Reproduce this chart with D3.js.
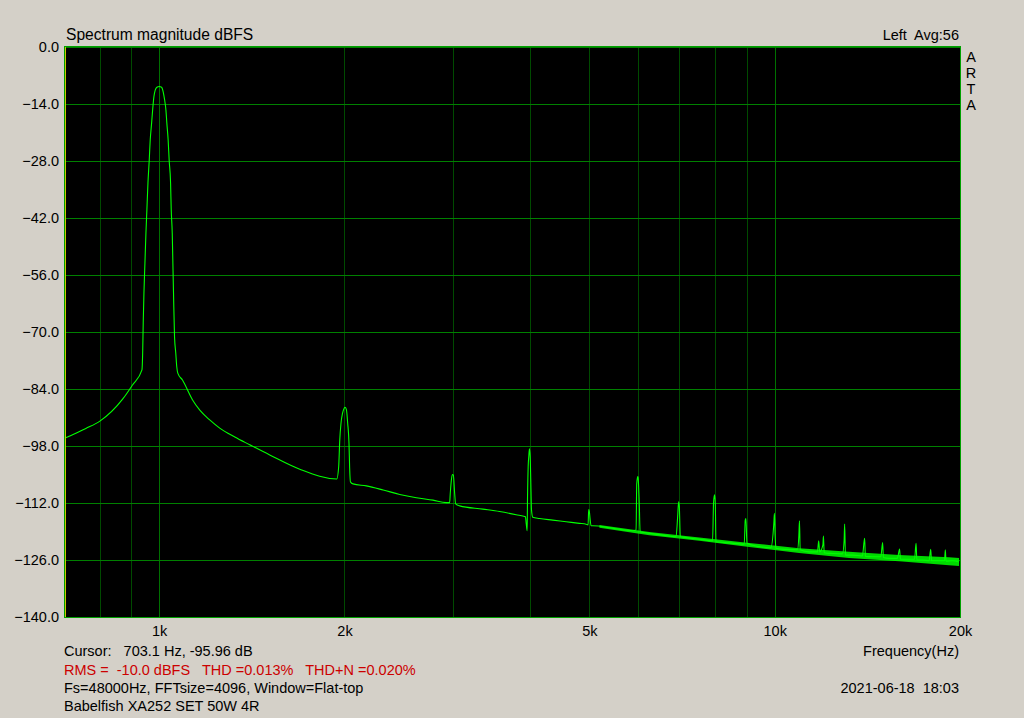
<!DOCTYPE html>
<html>
<head>
<meta charset="utf-8">
<script src="https://cdn.jsdelivr.net/npm/d3@7"></script>
<style>
  html, body { margin: 0; padding: 0; background: #d4d0c8; }
  svg { display: block; }
  text { font-family: "Liberation Sans", Arial, sans-serif; font-size: 14.5px; fill: #000; white-space: pre; }
</style>
</head>
<body>
<svg id="chart" width="1024" height="718"></svg>
<script>
// ---------- data ----------
const yTicks = [0, -14, -28, -42, -56, -70, -84, -98, -112, -126, -140];
const xTickValues = [1000, 2000, 5000, 10000, 20000];
const xTickLabels = ["1k", "2k", "5k", "10k", "20k"];
const gridFreqsMinor = [800, 900, 2000, 3000, 4000, 5000, 6000, 7000, 8000, 9000];
const gridFreqsMajor = [1000, 10000];

// spectrum trace: frequency (Hz)
const specFreq = [
  705, 760, 801, 872, 905, 937.5,
  940, 942, 944.5, 948, 951.6, 955, 958.8, 963.4, 967, 972, 975.7, 980.4, 985.2, 991.5, 1000,
  1009, 1015, 1020.5, 1025.5, 1029, 1034, 1038, 1043.5, 1046, 1050, 1052.5, 1055, 1059, 1064, 1068, 1072,
  1091, 1133, 1164, 1208, 1254, 1327, 1403, 1512, 1692, 1943,
  1957, 1965, 1974, 1985, 1994, 2004, 2014, 2024, 2034, 2039, 2045,
  2065, 2170, 2311, 2459, 2617, 2785, 2928,
  2964, 2971, 2983, 2994, 3005, 3020, 3031,
  3077, 3355, 3572, 3801, 3936,
  3947, 3961, 3966, 3976, 3985, 3995, 4006, 4015, 4026, 4045,
  4148, 4358, 4583, 4816, 4938,
  4975, 4986, 4999, 5012, 5031,
  5062, 5455, 5879, 5954,
  5968, 5990, 5998, 6027, 6044,
  6180, 6574, 6913,
  6955, 6980, 6999, 7025,
  7176, 7542, 7926,
  7955, 7985, 8007, 8027,
  8436, 8923,
  8956, 8979, 9013,
  9434, 9857,
  9967, 9990, 10016, 10044,
  10430, 10888,
  10946, 10971, 10999,
  11375, 11735, 11788, 11832,
  11975, 12000, 12033,
  12413, 12885,
  12966, 12990, 13029,
  13375, 13883,
  13998, 14040,
  14411, 14873,
  14973, 15017,
  15340, 15824,
  15955, 16003,
  16530, 16873,
  16969, 17020,
  17373, 17813,
  17924, 17978,
  18491, 18874,
  18931, 18983,
  19434, 19929
];
// spectrum trace: magnitude (dBFS)
const specDb = [
  -96.0, -93.7, -91.9, -86.5, -83.0, -79.3,
  -75.2, -67.8, -60.4, -53.1, -45.7, -40.0, -33.4, -27.8, -22.8, -18.7, -15.5, -12.2, -10.6, -9.9, -9.7,
  -9.9, -11.0, -13.0, -15.5, -18.7, -22.8, -27.8, -33.4, -40.0, -45.7, -53.1, -60.4, -71.2, -75.2, -78.6, -80.1,
  -81.8, -86.7, -89.2, -91.6, -93.6, -95.8, -97.7, -100.2, -103.7, -106.1,
  -103.1, -96.5, -92.4, -90.0, -89.0, -88.5, -89.0, -92.4, -97.3, -103.4, -106.8,
  -107.3, -107.8, -108.8, -109.9, -110.7, -111.3, -111.9,
  -111.9, -109.6, -106.4, -105.0, -105.1, -109.6, -112.2,
  -112.7, -113.5, -114.1, -114.9, -115.4,
  -117.0, -118.8, -111.3, -103.1, -100.6, -98.7, -100.6, -106.4, -113.7, -115.5,
  -115.8, -116.2, -116.6, -117.0, -117.2,
  -117.4, -113.6, -114.1, -115.8, -117.6,
  -117.6, -118.2, -118.8, -118.6,
  -107.3, -105.5, -105.7, -112.9, -119.1,
  -119.3, -119.9, -120.3,
  -115.4, -111.7, -112.9, -120.3,
  -120.5, -120.9, -121.3,
  -111.9, -110.0, -112.1, -121.5,
  -121.8, -122.1,
  -116.2, -115.8, -121.9,
  -122.7, -123.0,
  -117.0, -114.5, -119.9, -123.1,
  -123.4, -123.5,
  -119.9, -116.4, -123.5,
  -124.0, -124.0, -121.3, -124.0,
  -122.3, -120.1, -124.2,
  -124.4, -124.5,
  -121.1, -117.2, -124.8,
  -124.8, -125.0,
  -120.7, -125.1,
  -125.2, -125.2,
  -121.7, -125.4,
  -125.6, -125.6,
  -123.3, -125.8,
  -125.8, -125.8,
  -121.9, -126.0,
  -126.0, -126.2,
  -123.4, -126.2,
  -126.2, -126.2,
  -123.5, -126.3,
  -126.2, -126.5
];

// noise band envelope of the floor at higher frequencies
const noiseFreq = [5190, 6257, 7542, 9092, 10955, 13208, 15924, 19193, 19929];
const noiseTop = [-117.4, -119.1, -120.5, -121.8, -123.1, -124.0, -124.8, -125.3, -125.5];
const noiseBottom = [-118.1, -119.9, -121.3, -122.8, -124.3, -125.5, -126.3, -127.3, -127.5];

// ---------- drawing ----------
const svg = d3.select("#chart");
const pL = 65, pR = 960, pT = 47, pB = 617;
const FONT = "\"Liberation Sans\", Arial, sans-serif";

const x = d3.scaleLog().domain([703, 20000]).range([pL, pR]);
const y = d3.scaleLinear().domain([0, -140]).range([pT, pB]);

// plot background
svg.append("rect").attr("x", pL).attr("y", pT)
  .attr("width", pR - pL).attr("height", pB - pT).attr("fill", "#000");

// vertical grid
svg.append("g").selectAll("line").data(gridFreqsMinor).join("line")
  .attr("x1", d => Math.round(x(d)) + 0.5).attr("x2", d => Math.round(x(d)) + 0.5)
  .attr("y1", pT).attr("y2", pB)
  .attr("stroke", "#004a00").attr("stroke-width", 1);
svg.append("g").selectAll("line").data(gridFreqsMajor).join("line")
  .attr("x1", d => Math.round(x(d)) + 0.5).attr("x2", d => Math.round(x(d)) + 0.5)
  .attr("y1", pT).attr("y2", pB)
  .attr("stroke", "#007000").attr("stroke-width", 1);

// horizontal grid
svg.append("g").selectAll("line").data(yTicks).join("line")
  .attr("x1", pL).attr("x2", pR)
  .attr("y1", d => Math.round(y(d)) + 0.5).attr("y2", d => Math.round(y(d)) + 0.5)
  .attr("stroke", "#008000").attr("stroke-width", 1);

// noise band
const spec = specFreq.map((f, i) => [f, specDb[i]]);
const noise = noiseFreq.map((f, i) => [f, noiseTop[i], noiseBottom[i]]);
svg.append("path").datum(noise)
  .attr("d", d3.area().x(d => x(d[0])).y0(d => y(d[2])).y1(d => y(d[1])))
  .attr("fill", "#00ff00").attr("fill-opacity", 0.85);

// trace
svg.append("path").datum(spec)
  .attr("d", d3.line().x(d => x(d[0])).y(d => y(d[1])).curve(d3.curveMonotoneX))
  .attr("fill", "none").attr("stroke", "#00ff00").attr("stroke-width", 1.1)
  .attr("stroke-linejoin", "round");

// frame
svg.append("rect").attr("x", pL - 0.5).attr("y", pT - 0.5)
  .attr("width", pR - pL + 1).attr("height", pB - pT + 1)
  .attr("fill", "none").attr("stroke", "#00a000").attr("stroke-width", 1);
svg.append("line").attr("x1", pL + 0.5).attr("x2", pL + 0.5)
  .attr("y1", pT).attr("y2", pB)
  .attr("stroke", "#c8c800").attr("stroke-width", 1);

// y axis labels
const yAxis = d3.axisLeft(y).tickValues(yTicks).tickFormat(d3.format(".1f")).tickSize(0).tickPadding(6);
const gy = svg.append("g").attr("transform", `translate(${pL},0)`).call(yAxis);
gy.select(".domain").remove();
gy.selectAll("text").style("font-family", FONT).style("font-size", "14.5px").attr("fill", "#000");

// x axis labels
const xAxis = d3.axisBottom(x).tickValues(xTickValues).tickFormat((d, i) => xTickLabels[i]).tickSize(0).tickPadding(9);
const gx = svg.append("g").attr("transform", `translate(0,${pB})`).call(xAxis);
gx.select(".domain").remove();
gx.selectAll("text").style("font-family", FONT).style("font-size", "14.5px").attr("fill", "#000");

// texts
svg.append("text").attr("x", 66).attr("y", 40).style("font-size", "15.6px").text("Spectrum magnitude dBFS");
svg.append("text").attr("x", 959).attr("y", 40).attr("text-anchor", "end").text("Left  Avg:56");
["A", "R", "T", "A"].forEach((c, i) => {
  svg.append("text").attr("x", 971).attr("y", 62 + i * 16).attr("text-anchor", "middle").text(c);
});
svg.append("text").attr("x", 959).attr("y", 656).attr("text-anchor", "end").text("Frequency(Hz)");
svg.append("text").attr("x", 64).attr("y", 656).text("Cursor:   703.1 Hz, -95.96 dB");
svg.append("text").attr("x", 64).attr("y", 675).style("fill", "#cc0000")
  .text("RMS =  -10.0 dBFS   THD =0.013%   THD+N =0.020%");
svg.append("text").attr("x", 64).attr("y", 693).text("Fs=48000Hz, FFTsize=4096, Window=Flat-top");
svg.append("text").attr("x", 959).attr("y", 693).attr("text-anchor", "end").text("2021-06-18  18:03");
svg.append("text").attr("x", 64).attr("y", 711).text("Babelfish XA252 SET 50W 4R");
</script>
</body>
</html>
